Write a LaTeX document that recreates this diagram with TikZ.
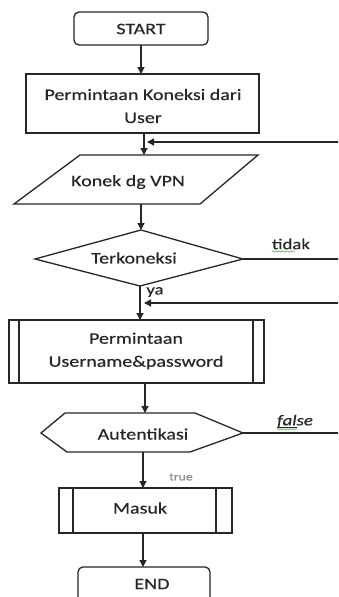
\documentclass[tikz,border=0pt]{standalone}
\usepackage{fontspec}
\setmainfont{Carlito}[FakeStretch=1.25,FakeBold=0.4]
\usetikzlibrary{arrows.meta,decorations.pathmorphing}
\begin{document}
\begin{tikzpicture}[x=1pt,y=-1pt,
  line/.style={draw=black!85,line width=1.3pt},
  arr/.style={line,-{Triangle[length=7pt,width=7pt]}},
  txt/.style={font=\fontsize{16}{23}\selectfont,text=black!85,align=center,inner sep=0pt},
  lbl/.style={font=\fontsize{15}{16}\selectfont,text=black!85,inner sep=0pt},
  squig/.style={draw=green!50!black!60,line width=0.6pt,decorate,decoration={snake,amplitude=0.7pt,segment length=3pt}}]
\useasboundingbox (0,0) rectangle (338,597);
\fill[white] (0,0) rectangle (338,597);
\begin{scope}
\clip (0,0) rectangle (338,597);
% START
\draw[line,rounded corners=5pt] (74,12) rectangle (208,45);
\node[txt] (start) at (141,29) {START};
\coordinate (startB) at (141,45);
% Permintaan Koneksi
\draw[line] (26,74) rectangle (259,133);
\node[txt] (req) at (143,106) {Permintaan Koneksi dari\\User};
\coordinate (reqT) at (141,74);
\coordinate (reqB) at (144,133);
% Konek dg VPN
\draw[line] (80,155) -- (258,155) -- (200,204) -- (14,204) -- cycle;
\node[txt] (vpn) at (128,182) {Konek dg VPN};
\coordinate (vpnT) at (144,155);
\coordinate (vpnB) at (141,204);
\coordinate (fb1in) at (147,142);
\coordinate (fb1out) at (340,142);
% Terkoneksi
\draw[line] (141,230) -- (243,259) -- (140,286) -- (35,259) -- cycle;
\node[txt] (con) at (134,258) {Terkoneksi};
\coordinate (conT) at (141,230);
\coordinate (conB) at (140,286);
\coordinate (conR) at (243,259);
\coordinate (conOut) at (340,259);
\node[lbl] (tidak) at (291,244) {tidak};
\node[lbl] (ya) at (155,292) {ya};
% Permintaan Username
\draw[line] (9,320) rectangle (264,383);
\draw[line] (19,320) -- (19,383) (253,320) -- (253,383);
\node[txt] (user) at (136,351) {Permintaan\\Username\&password};
\coordinate (userT) at (140,320);
\coordinate (userB) at (145,383);
\coordinate (fb2in) at (144,303);
\coordinate (fb2out) at (340,303);
% Autentikasi
\draw[line] (41,433) -- (65,413) -- (195,413) -- (243,433) -- (190,452) -- (67,452) -- cycle;
\node[txt] (auth) at (143,434) {Autentikasi};
\coordinate (authT) at (145,413);
\coordinate (authB) at (143,452);
\coordinate (authR) at (243,433);
\coordinate (authOut) at (340,433);
\node[lbl,font=\fontsize{15}{16}\selectfont\itshape] (false) at (295,421) {false};
\node[lbl,font=\fontsize{11}{12}\selectfont,text=black!45] (true) at (181,477) {true};
% Masuk
\draw[line] (59,488) rectangle (232,533);
\draw[line] (73,488) -- (73,533) (216,488) -- (216,533);
\node[txt] (masuk) at (140,508) {Masuk};
\coordinate (masukT) at (143,488);
\coordinate (masukB) at (143,533);
% END
\draw[line,rounded corners=5pt] (78,567) rectangle (210,620);
\node[txt] (end) at (152,584) {END};
\coordinate (endT) at (143,567);
% connectors
\draw[arr] (startB) -- (reqT);
\draw[arr] (reqB) -- (vpnT);
\draw[arr] (fb1out) -- (fb1in);
\draw[arr] (vpnB) -- (conT);
\draw[line] (conR) -- (conOut);
\draw[arr] (conB) -- (userT);
\draw[arr] (fb2out) -- (fb2in);
\draw[arr] (userB) -- (authT);
\draw[line] (authR) -- (authOut);
\draw[arr] (authB) -- (masukT);
\draw[arr] (masukB) -- (endT);
% spell-check marks
\draw[squig] (tidak.south west) ++(0,2) -- ++(23,0);
\draw[squig] (false.south west) ++(0,2) -- ++(20,0);
\draw[line,line width=0.7pt] (false.south west) ++(0,0.5) -- ++(20,0);
\end{scope}
\end{tikzpicture}
\end{document}
